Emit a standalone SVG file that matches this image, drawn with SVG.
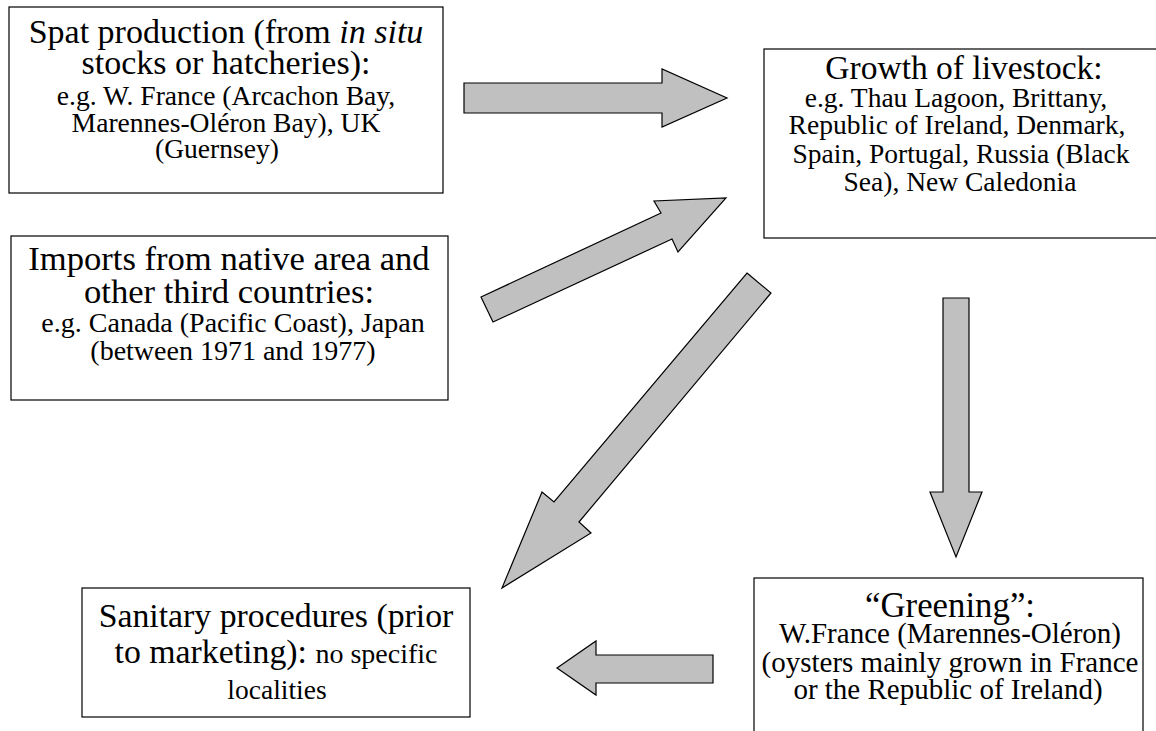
<svg xmlns="http://www.w3.org/2000/svg" width="1156" height="731" viewBox="0 0 1156 731">
<style>
.box{fill:#fff;stroke:#000;stroke-width:1.2}
.arr{fill:#c0c0c0;stroke:#000;stroke-width:1.2;stroke-linejoin:miter}
text{font-family:"Liberation Serif","Times New Roman",serif;fill:#000;text-anchor:middle}
</style>
<rect width="1156" height="731" fill="#fff"/>
<g id="connectors">
<polygon class="arr" points="464,83 662,83 662,69 727,98 662,127 662,113 464,113"/>
<polygon class="arr" points="481,297 661,213 654,201 726,198 678,252 672,239 493,322"/>
<polygon class="arr" points="747,273 771,293 579,522 591,533 502,588 542,492 554,502"/>
<polygon class="arr" points="943,298 969,298 969,492 982,492 956,557 930,492 943,492"/>
<polygon class="arr" points="713,655 596,655 596,641 557,668 596,695 596,683 713,683"/>
</g>
<g id="spat">
<rect class="box" x="9" y="7" width="434" height="186"/>
<text x="226" y="43" font-size="34">Spat production (from <tspan font-style="italic">in situ</tspan></text>
<text x="226" y="74" font-size="34">stocks or hatcheries):</text>
<text x="226" y="105" font-size="27.6">e.g. W. France (Arcachon Bay,</text>
<text x="226" y="132" font-size="27.6">Marennes-Oléron Bay), UK</text>
<text x="217" y="158" font-size="27.6">(Guernsey)</text>
</g>
<g id="growth">
<rect class="box" x="764" y="49" width="400" height="189"/>
<text x="964" y="79" font-size="33.5">Growth of livestock:</text>
<text x="956" y="107" font-size="27.5">e.g. Thau Lagoon, Brittany,</text>
<text x="957" y="134" font-size="27.5">Republic of Ireland, Denmark,</text>
<text x="961" y="163" font-size="27.5">Spain, Portugal, Russia (Black</text>
<text x="960" y="191" font-size="27.5">Sea), New Caledonia</text>
</g>
<g id="imports">
<rect class="box" x="11" y="236" width="437" height="164"/>
<text x="229" y="270" font-size="34.6">Imports from native area and</text>
<text x="229" y="303" font-size="34.6">other third countries:</text>
<text x="233" y="332" font-size="28">e.g. Canada (Pacific Coast), Japan</text>
<text x="233" y="360" font-size="28">(between 1971 and 1977)</text>
</g>
<g id="sanitary">
<rect class="box" x="82" y="588" width="388" height="129"/>
<text x="276" y="627" font-size="33.8">Sanitary procedures (prior</text>
<text x="276" y="663" font-size="33.8">to marketing): <tspan font-size="28">no specific</tspan></text>
<text x="277" y="699" font-size="27.5">localities</text>
</g>
<g id="greening">
<rect class="box" x="754" y="578" width="389" height="170"/>
<text x="950" y="617" font-size="34.8">“Greening”:</text>
<text x="950" y="643" font-size="29">W.France (Marennes-Oléron)</text>
<text x="950" y="672" font-size="29">(oysters mainly grown in France</text>
<text x="948" y="699" font-size="29">or the Republic of Ireland)</text>
</g>
</svg>
